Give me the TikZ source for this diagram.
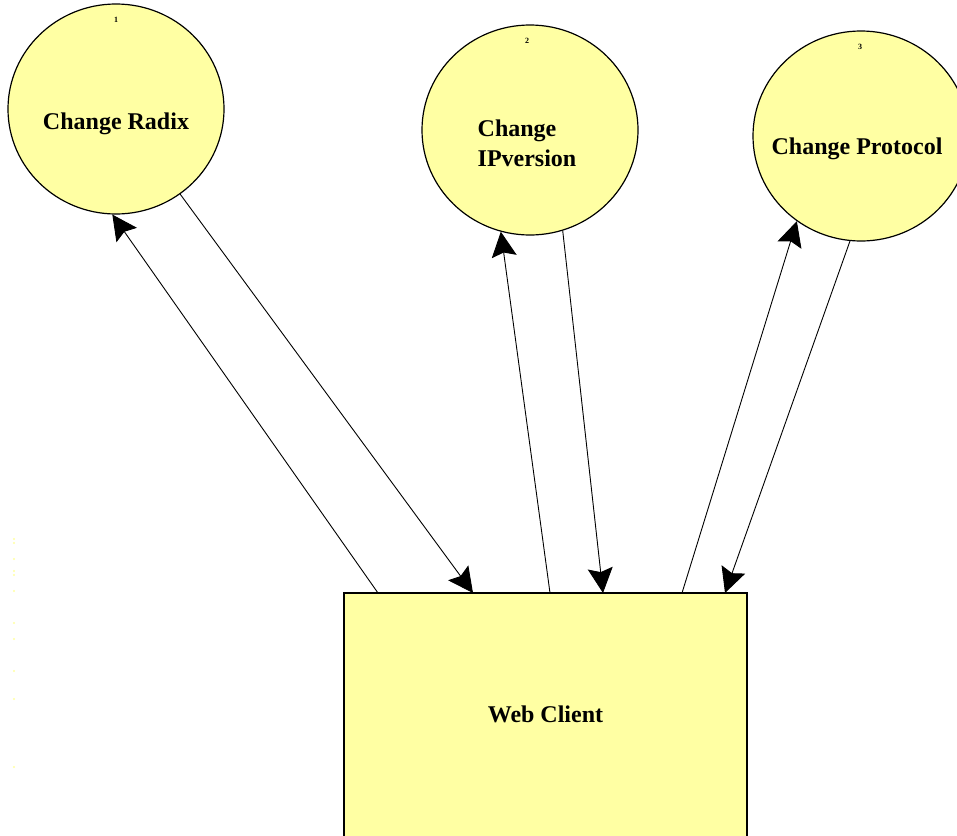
\documentclass[tikz,border=0pt]{standalone}
\usepackage{fontspec}
\setmainfont{Liberation Serif}
\usetikzlibrary{shapes.geometric,arrows.meta}
\definecolor{pale}{RGB}{255,255,163}
\tikzset{
  procnode/.style={ellipse, draw=black, line width=1.2pt, fill=pale,
    minimum width=216pt, minimum height=210pt, inner sep=0pt},
  boxnode/.style={rectangle, draw=black, line width=1.2pt, fill=pale,
    minimum width=403pt, minimum height=252pt, inner sep=0pt},
  lbl/.style={font=\fontsize{24}{30}\selectfont\bfseries, align=left, inner sep=0pt},
  num/.style={font=\fontsize{8}{8}\selectfont\bfseries, inner sep=0pt},
  flow/.style={line width=0.9pt, -{Stealth[length=25pt,width=25pt,inset=4pt]}}
}
\begin{document}
\begin{tikzpicture}[x=1pt,y=-1pt]
  \useasboundingbox (0,0) rectangle (957,835);
  \fill[white] (0,0) rectangle (957,835);
  \clip (0,0) rectangle (957,835);

  % faint dots along the left margin
  \foreach \yy in {539,543,559,571,575,591,623,639,671,699,767}
    \fill[pale] (14,\yy) circle (1.2pt);

  % the three processes and the client (box runs past the lower edge)
  \node[procnode] (radix) at (116,109) {};
  \node[procnode] (ipv)   at (530,130) {};
  \node[procnode] (proto) at (861,136) {};
  \node[boxnode]  (web)   at (545.5,719) {};

  \node[lbl] (radixtxt) at ([yshift=-15pt]radix.center) {Change Radix};
  \node[lbl] (ipvtxt)   at ([xshift=-3pt,yshift=-13pt]ipv.center) {Change\\IPversion};
  \node[lbl] (prototxt) at ([xshift=-4pt,yshift=-13pt]proto.center) {Change Protocol};
  \node[lbl] (webtxt)   at ([yshift=5pt]web.center) {Web Client};

  \node[num] (radixnum) at ([yshift=89pt]radix.center) {1};
  \node[num] (ipvnum)   at ([xshift=-3pt,yshift=89pt]ipv.center) {2};
  \node[num] (protonum) at ([xshift=-1pt,yshift=89pt]proto.center) {3};

  % connection points on the top edge of the client box
  \coordinate (w1) at (378,593);
  \coordinate (w2) at (473,593);
  \coordinate (w3) at (550,593);
  \coordinate (w4) at (603,593);
  \coordinate (w5) at (682,593);
  \coordinate (w6) at (725,593);

  % requests and replies
  \draw[flow] (w1) -- (radix.268);
  \draw[flow] (radix.307) -- (w2);
  \draw[flow] (w3) -- (ipv.254);
  \draw[flow] (ipv.288) -- (w4);
  \draw[flow] (w5) -- (proto.233);
  \draw[flow] (proto.264) -- (w6);
\end{tikzpicture}
\end{document}
